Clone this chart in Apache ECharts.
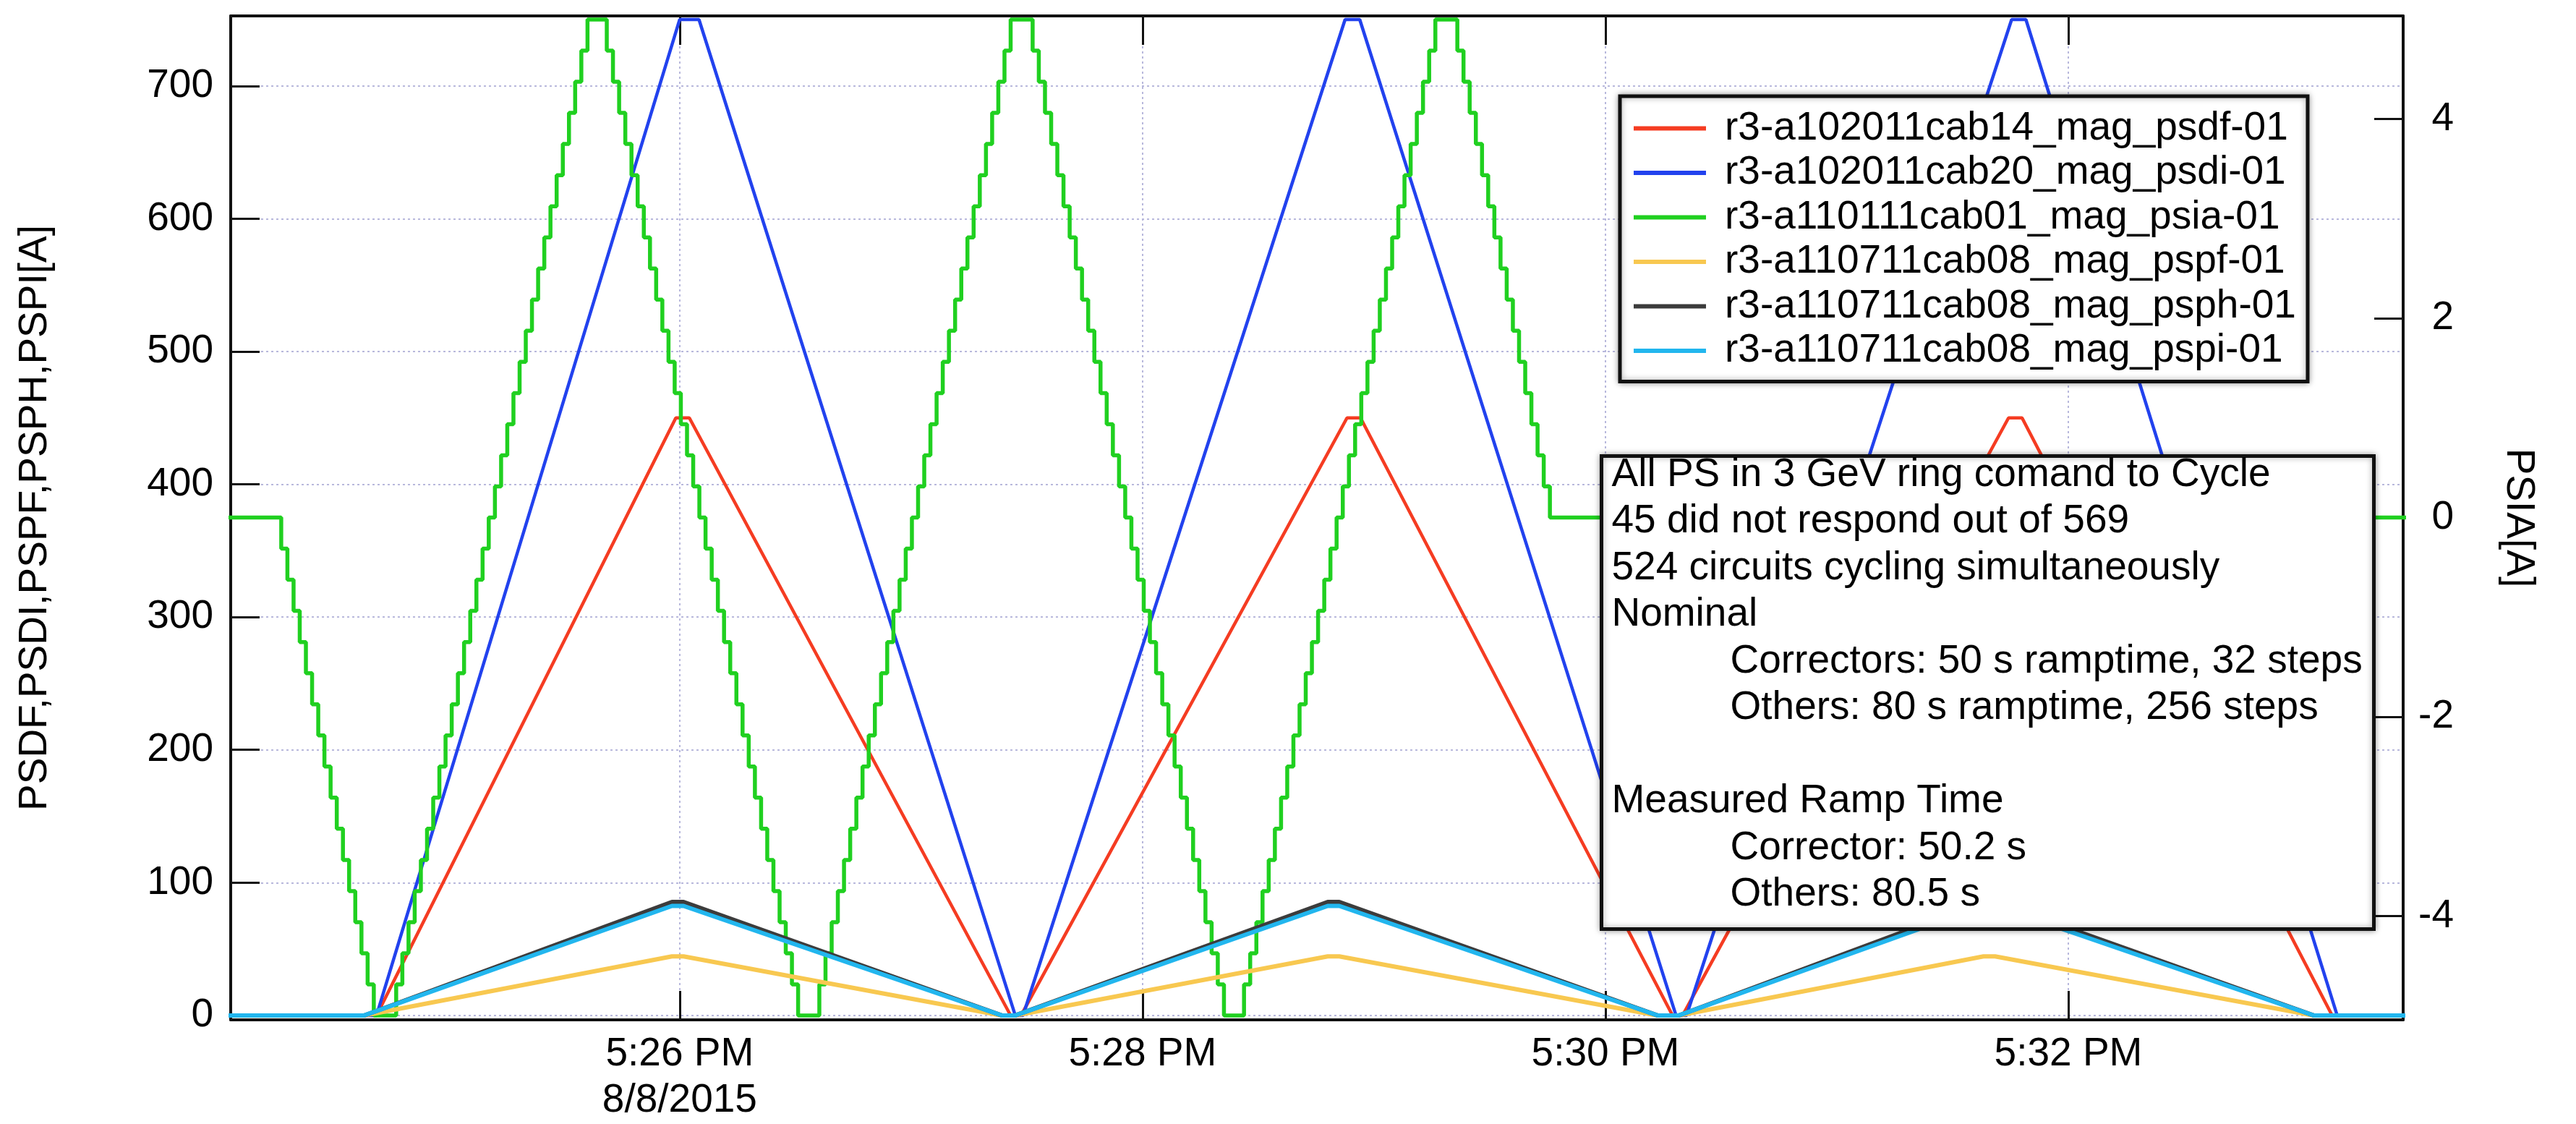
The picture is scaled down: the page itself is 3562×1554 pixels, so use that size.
<!DOCTYPE html>
<html>
<head>
<meta charset="utf-8">
<script src="https://cdn.jsdelivr.net/npm/echarts@6/dist/echarts.min.js"></script>
<style>html,body{margin:0;padding:0;background:#fff}#c{width:3562px;height:1554px}</style>
</head>
<body>
<div id="c"></div>
<script>
// Time values are seconds after 5:00:00 PM, 8/8/2015
const seriesNames = [
  'r3-a102011cab14_mag_psdf-01',
  'r3-a102011cab20_mag_psdi-01',
  'r3-a110111cab01_mag_psia-01',
  'r3-a110711cab08_mag_pspf-01',
  'r3-a110711cab08_mag_psph-01',
  'r3-a110711cab08_mag_pspi-01'
];
const seriesColors = ['#f53c22', '#2242ee', '#20d020', '#f8c850', '#3c3c3c', '#22b6ee'];

const psdfTimes  = [1443, 1481.4, 1559, 1562.5, 1645.8, 1648.5, 1733, 1736.5, 1817.4, 1820, 1904.5, 1908, 1988.4, 2008];
const psdfValues = [0, 0, 450, 450, 0, 0, 450, 450, 0, 0, 450, 450, 0, 0];

const psdiTimes  = [1443, 1481.4, 1560, 1565, 1647, 1649, 1732.5, 1736.3, 1818.3, 1821, 1905.3, 1909, 1989.7, 2008];
const psdiValues = [0, 0, 750, 750, 0, 0, 750, 750, 0, 0, 750, 750, 0, 0];

const pspTimes   = [1443, 1478.2, 1558, 1561, 1643.5, 1647, 1728, 1731, 1813.5, 1819, 1898, 1901, 1983.6, 2008];
const pspfValues = [0, 0, 44.5, 44.5, 0, 0, 44.5, 44.5, 0, 0, 44.5, 44.5, 0, 0];
const psphValues = [0, 0, 85.5, 85.5, 0, 0, 85.5, 85.5, 0, 0, 85.5, 85.5, 0, 0];
const pspiValues = [0, 0, 82.5, 82.5, 0, 0, 82.5, 82.5, 0, 0, 82.5, 82.5, 0, 0];

// PSIA staircase (right axis): levels and step times
const psiaStart = [1443, 0];
const psiaEnd = [2008, 0];
const psiaDownLevels = [4.6875, 4.375, 4.0625, 3.75, 3.4375, 3.125, 2.8125, 2.5, 2.1875, 1.875, 1.5625, 1.25, 0.9375, 0.625, 0.3125, 0,
  -0.3125, -0.625, -0.9375, -1.25, -1.5625, -1.875, -2.1875, -2.5, -2.8125, -3.125, -3.4375, -3.75, -4.0625, -4.375, -4.6875, -5];
const psiaUpLevels = [-4.6875, -4.375, -4.0625, -3.75, -3.4375, -3.125, -2.8125, -2.5, -2.1875, -1.875, -1.5625, -1.25, -0.9375, -0.625, -0.3125, 0,
  0.3125, 0.625, 0.9375, 1.25, 1.5625, 1.875, 2.1875, 2.5, 2.8125, 3.125, 3.4375, 3.75, 4.0625, 4.375, 4.6875, 5];
const psiaRampA = [1456.7, 1458.3, 1459.9, 1461.5, 1463.1, 1464.7, 1466.3, 1467.9, 1469.5, 1471.1, 1472.7, 1474.3, 1475.9, 1477.5, 1479.1, 1480.7];
const psiaRampB = [1486.5, 1488.1, 1489.7, 1491.3, 1492.9, 1494.5, 1496.1, 1497.7, 1499.3, 1500.9, 1502.5, 1504.1, 1505.7, 1507.3, 1508.9, 1510.5,
  1512.1, 1513.7, 1515.3, 1516.9, 1518.5, 1520.1, 1521.7, 1523.3, 1524.9, 1526.5, 1528.1, 1529.7, 1531.3, 1532.9, 1534.5, 1536.1];
const psiaRampC = [1541.1, 1542.7, 1544.3, 1545.9, 1547.5, 1549.1, 1550.7, 1552.3, 1553.9, 1555.5, 1557.1, 1558.7, 1560.3, 1561.9, 1563.5, 1565.1,
  1566.7, 1568.3, 1569.9, 1571.5, 1573.1, 1574.7, 1576.3, 1577.9, 1579.5, 1581.1, 1582.7, 1584.3, 1585.9, 1587.5, 1589.1, 1590.7];
const psiaRampD = [1596.2, 1597.8, 1599.4, 1601.0, 1602.6, 1604.2, 1605.8, 1607.4, 1609.0, 1610.6, 1612.2, 1613.8, 1615.4, 1617.0, 1618.6, 1620.2,
  1621.8, 1623.4, 1625.0, 1626.6, 1628.2, 1629.8, 1631.4, 1633.0, 1634.6, 1636.2, 1637.8, 1639.4, 1641.0, 1642.6, 1644.2, 1645.8];
const psiaRampE = [1651.5, 1653.1, 1654.7, 1656.3, 1657.9, 1659.5, 1661.1, 1662.7, 1664.3, 1665.9, 1667.5, 1669.1, 1670.7, 1672.3, 1673.9, 1675.5,
  1677.1, 1678.7, 1680.3, 1681.9, 1683.5, 1685.1, 1686.7, 1688.3, 1689.9, 1691.5, 1693.1, 1694.7, 1696.3, 1697.9, 1699.5, 1701.1];
const psiaRampF = [1706.3, 1707.9, 1709.5, 1711.1, 1712.7, 1714.3, 1715.9, 1717.5, 1719.1, 1720.7, 1722.3, 1723.9, 1725.5, 1727.1, 1728.7, 1730.3,
  1731.9, 1733.5, 1735.1, 1736.7, 1738.3, 1739.9, 1741.5, 1743.1, 1744.7, 1746.3, 1747.9, 1749.5, 1751.1, 1752.7, 1754.3, 1755.9];
const psiaRampG = [1761.6, 1763.2, 1764.8, 1766.4, 1768.0, 1769.6, 1771.2, 1772.8, 1774.4, 1776.0, 1777.6, 1779.2, 1780.8, 1782.4, 1784.0, 1785.6];

// Axis ticks / labels
const xTickValues = [1560, 1680, 1800, 1920];
const xTickLabels = ['5:26 PM\n8/8/2015', '5:28 PM', '5:30 PM', '5:32 PM'];
const leftTickValues = [0, 100, 200, 300, 400, 500, 600, 700];
const rightTickValues = [-4, -2, 0, 2, 4];

const noteLines = [
  'All PS in 3 GeV ring comand to Cycle',
  '45 did not respond out of 569',
  '524 circuits cycling simultaneously',
  'Nominal',
  '\tCorrectors: 50 s ramptime, 32 steps',
  '\tOthers: 80 s ramptime, 256 steps',
  '',
  'Measured Ramp Time',
  '\tCorrector: 50.2 s',
  '\tOthers: 80.5 s'
];

// ---- build ----
const zip = (ts, vs) => ts.map((t, i) => [t, vs[i]]);
const psiaData = [psiaStart]
  .concat(zip(psiaRampA, psiaDownLevels.slice(16)))
  .concat(zip(psiaRampB, psiaUpLevels))
  .concat(zip(psiaRampC, psiaDownLevels))
  .concat(zip(psiaRampD, psiaUpLevels))
  .concat(zip(psiaRampE, psiaDownLevels))
  .concat(zip(psiaRampF, psiaUpLevels))
  .concat(zip(psiaRampG, psiaDownLevels.slice(0, 16)))
  .concat([psiaEnd]);

const FONT = '"Liberation Sans", Arial, Helvetica, sans-serif';
const AX = '#111';
const gridLine = {show: true, lineStyle: {color: '#b8b8dc', width: 2, type: [3, 4]}};

function lineSeries(i, data, width, extra) {
  return Object.assign({
    name: seriesNames[i], type: 'line', data: data, symbol: 'none', showSymbol: false,
    lineStyle: {color: seriesColors[i], width: width}, itemStyle: {color: seriesColors[i]},
    animation: false, z: 2 + i
  }, extra || {});
}

const noteChildren = [{
  type: 'rect', z: 100, shape: {x: 0, y: 0, width: 1068, height: 654},
  style: {fill: '#fff', stroke: '#111', lineWidth: 5, shadowBlur: 8, shadowColor: 'rgba(0,0,0,0.35)'}
}];
noteLines.forEach((ln, i) => {
  if (!ln) return;
  const indent = ln.charAt(0) === '\t';
  noteChildren.push({
    type: 'text', z: 101, x: indent ? 178 : 14, y: 26 + i * 64.5,
    style: {text: ln.replace('\t', ''), font: '55px ' + FONT, fill: '#000', verticalAlign: 'middle', align: 'left'}
  });
});

const chart = echarts.init(document.getElementById('c'), null, {renderer: 'canvas'});
chart.setOption({
  animation: false,
  backgroundColor: '#fff',
  color: seriesColors,
  grid: {left: 319, right: 239, top: 22, bottom: 141, containLabel: false},
  legend: {
    show: true, orient: 'vertical', left: 2240, top: 133, data: seriesNames, selectedMode: false,
    icon: 'rect', itemWidth: 100, itemHeight: 6, itemGap: 6.5,
    padding: [17, 16, 15, 19],
    backgroundColor: '#fff', borderColor: '#111', borderWidth: 5,
    shadowBlur: 8, shadowColor: 'rgba(0,0,0,0.35)',
    textStyle: {fontSize: 55, fontFamily: FONT, color: '#000', lineHeight: 55, padding: [0, 0, 0, 21]},
    z: 50
  },
  xAxis: [{
    type: 'value', min: 1443.6, max: 2006.8, position: 'bottom',
    axisLine: {show: true, onZero: false, lineStyle: {color: AX, width: 4}},
    axisTick: {show: true, inside: true, length: 40, customValues: xTickValues, lineStyle: {color: AX, width: 3}},
    axisLabel: {
      show: true, customValues: xTickValues, margin: 16, fontSize: 55, lineHeight: 64, fontFamily: FONT, color: '#000',
      formatter: function (v) {
        let best = 0;
        xTickValues.forEach((t, i) => { if (Math.abs(t - v) < Math.abs(xTickValues[best] - v)) best = i; });
        return xTickLabels[best];
      }
    },
    splitLine: gridLine
  }, {
    type: 'value', min: 1443.6, max: 2006.8, position: 'top',
    axisLine: {show: true, onZero: false, lineStyle: {color: AX, width: 4}},
    axisTick: {show: true, inside: true, length: 40, customValues: xTickValues, lineStyle: {color: AX, width: 3}},
    axisLabel: {show: false},
    splitLine: {show: false}
  }],
  yAxis: [{
    type: 'value', min: -3.3, max: 752.7, position: 'left',
    name: 'PSDF,PSDI,PSPF,PSPH,PSPI[A]', nameLocation: 'middle', nameGap: 243,
    nameTextStyle: {fontSize: 55, fontFamily: FONT, color: '#000'},
    axisLine: {show: true, onZero: false, lineStyle: {color: AX, width: 4}},
    axisTick: {show: true, inside: true, length: 40, customValues: leftTickValues, lineStyle: {color: AX, width: 3}},
    axisLabel: {show: true, customValues: leftTickValues, margin: 24, fontSize: 55, fontFamily: FONT, color: '#000'},
    splitLine: gridLine
  }, {
    type: 'value', min: -5.043, max: 5.036, position: 'right',
    name: 'PSIA[A]', nameLocation: 'middle', nameGap: 132, nameRotate: -90,
    nameTextStyle: {fontSize: 55, fontFamily: FONT, color: '#000'},
    axisLine: {show: true, onZero: false, lineStyle: {color: AX, width: 4}},
    axisTick: {show: true, inside: true, length: 40, customValues: rightTickValues, lineStyle: {color: AX, width: 3}},
    axisLabel: {show: true, customValues: rightTickValues, margin: 70, align: 'right', fontSize: 55, fontFamily: FONT, color: '#000'},
    splitLine: {show: false}
  }],
  series: [
    lineSeries(0, zip(psdfTimes, psdfValues), 4.5),
    lineSeries(1, zip(psdiTimes, psdiValues), 4.5),
    lineSeries(2, psiaData, 5.5, {yAxisIndex: 1, step: 'end'}),
    lineSeries(3, zip(pspTimes, pspfValues), 6),
    lineSeries(4, zip(pspTimes, psphValues), 6),
    lineSeries(5, zip(pspTimes, pspiValues), 6)
  ],
  graphic: [{type: 'group', left: 2212, top: 628, z: 100, children: noteChildren}]
});
</script>
</body>
</html>
